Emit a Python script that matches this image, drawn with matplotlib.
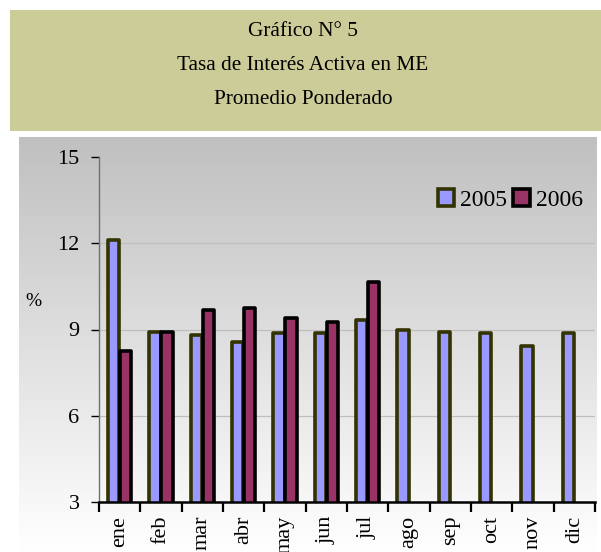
import numpy as np
import matplotlib
matplotlib.use("Agg")
import matplotlib.pyplot as plt
from matplotlib.patches import Rectangle

months = ["ene", "feb", "mar", "abr", "may", "jun", "jul", "ago", "sep", "oct", "nov", "dic"]
rate_2005 = [12.1, 8.92, 8.81, 8.58, 8.87, 8.87, 9.33, 8.98, 8.92, 8.87, 8.44, 8.87]
rate_2006 = [8.25, 8.92, 9.68, 9.76, 9.41, 9.27, 10.66]
title_lines = ["Gráfico N° 5", "Tasa de Interés Activa en ME", "Promedio Ponderado"]
yticks = [3, 6, 9, 12, 15]

plt.rcParams['font.family'] = ['Liberation Serif', 'DejaVu Serif']

W, H = 601, 552
fig = plt.figure(figsize=(W / 100, H / 100), dpi=100)

# background layer in pixel coordinates
bg = fig.add_axes([0, 0, 1, 1], zorder=-5)
bg.set_xlim(0, W)
bg.set_ylim(H, 0)
bg.axis('off')
grad = np.linspace(192, 255, 256)[:, None] / 255.0
grad_img = np.repeat(grad, 2, axis=1)
bg.imshow(np.dstack([grad_img] * 3), extent=(19, 597, 552, 137), aspect='auto',
          interpolation='bilinear')
bg.add_patch(Rectangle((10, 10), 591, 121, facecolor='#CCCC99', edgecolor='none'))
for t, yy in zip(title_lines, [32, 66, 100]):
    bg.text(303, yy, t, ha='center', va='center', fontsize=15.3, color='black')
bg.text(33, 302, "%", ha='center', va='center', fontsize=14)
bg.set_xlim(0, W)
bg.set_ylim(H, 0)

ax = fig.add_axes([99 / W, 1 - 502 / H, 496 / W, 345 / H])
ax.set_facecolor('none')
x = np.arange(len(months))
w = 0.27
off = 0.145
ax.bar(x - off, rate_2005, width=w, color='#9999FF', edgecolor='#333300',
       linewidth=2.6, joinstyle='round', label='2005', zorder=3)
ax.bar(x[:len(rate_2006)] + off, rate_2006, width=w, color='#993366', edgecolor='black',
       linewidth=2.6, joinstyle='round', label='2006', zorder=4)

ax.set_xlim(-0.5, len(months) - 0.5)
ax.set_ylim(3, 15)
ax.set_yticks(yticks)
ax.set_yticklabels([str(v) for v in yticks], fontsize=16)
ax.tick_params(axis='y', direction='out', length=6, width=1, pad=8, color='black')
ax.set_xticks(x)
ax.set_xticklabels(months, rotation=90, fontsize=16, va='top')
ax.tick_params(axis='x', which='major', length=0, pad=10)
ax.set_xticks(np.arange(-0.5, len(months)), minor=True)
ax.tick_params(axis='x', which='minor', direction='out', length=7, width=1.6, color='black')

for v in yticks[1:-1]:
    ax.axhline(v, color='#BEBEBE', linewidth=0.9, zorder=1)

for s in ['top', 'right']:
    ax.spines[s].set_visible(False)
ax.spines['left'].set_color('#707070')
ax.spines['left'].set_linewidth(1.0)
ax.spines['bottom'].set_color('black')
ax.spines['bottom'].set_linewidth(1.8)
ax.spines['bottom'].set_zorder(5)

leg = ax.legend(loc='center right', bbox_to_anchor=(0.975, 0.875), ncol=2, frameon=False,
                fontsize=17, handlelength=0.7, handleheight=0.7, handletextpad=0.25,
                columnspacing=0.25, borderpad=0, borderaxespad=0)

fig.savefig("out.png", dpi=100)
